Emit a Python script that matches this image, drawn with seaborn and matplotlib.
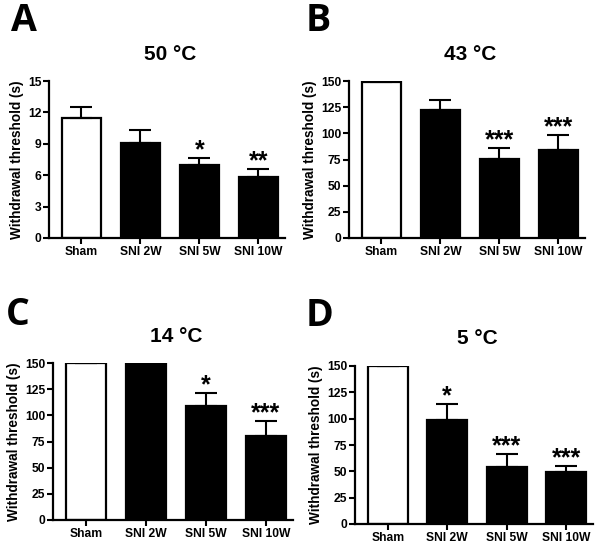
import matplotlib
matplotlib.use("Agg")
import matplotlib.pyplot as plt
import seaborn as sns
import pandas as pd

sns.set_style("ticks")
plt.rcParams['font.family'] = ['Liberation Sans', 'DejaVu Sans']
plt.rcParams['font.weight'] = 'bold'
plt.rcParams['text.color'] = 'black'
plt.rcParams['axes.labelcolor'] = 'black'
plt.rcParams['xtick.color'] = 'black'
plt.rcParams['ytick.color'] = 'black'
plt.rcParams['axes.edgecolor'] = 'black'

groups = ["Sham", "SNI 2W", "SNI 5W", "SNI 10W"]

# mean and SEM
temp_50_mean = [11.45, 9.08, 6.97, 5.85]
temp_50_sem = [1.05, 1.2, 0.67, 0.75]
temp_43_mean = [149.0, 122.3, 75.5, 84.0]
temp_43_sem = [0.6, 9.5, 10.5, 14.4]
temp_14_mean = [150.0, 150.0, 109.0, 80.7]
temp_14_sem = [0.0, 0.0, 12.3, 13.8]
temp_5_mean = [150.0, 98.9, 54.2, 49.7]
temp_5_sem = [0.0, 14.6, 12.1, 5.5]

stars_50 = ["", "", "*", "**"]
stars_43 = ["", "", "***", "***"]
stars_14 = ["", "", "*", "***"]
stars_5 = ["", "*", "***", "***"]

panels = [
    ("A", "50 °C", temp_50_mean, temp_50_sem, stars_50, 15, [0, 3, 6, 9, 12, 15]),
    ("B", "43 °C", temp_43_mean, temp_43_sem, stars_43, 150, [0, 25, 50, 75, 100, 125, 150]),
    ("C", "14 °C", temp_14_mean, temp_14_sem, stars_14, 150, [0, 25, 50, 75, 100, 125, 150]),
    ("D", "5 °C", temp_5_mean, temp_5_sem, stars_5, 150, [0, 25, 50, 75, 100, 125, 150]),
]

# axes boxes in pixels: left, top, right, bottom
W, H = 600, 547
boxes = [(49, 81, 285, 238), (349, 81, 585, 238), (53, 363, 293, 520), (355, 366, 593, 524)]
letter_pos = [(11, 21), (306, 21), (6, 315), (306, 316)]

fig = plt.figure(figsize=(6, 5.47), dpi=100)
colors = {"Sham": "white", "SNI 2W": "black", "SNI 5W": "black", "SNI 10W": "black"}

for (letter, title, means, sems, stars, ymax, yticks), box, lp in zip(panels, boxes, letter_pos):
    l, t, r, b = box
    ax = fig.add_axes([l / W, 1 - b / H, (r - l) / W, (b - t) / H])
    df = pd.DataFrame({"group": groups, "value": means})
    sns.barplot(data=df, x="group", y="value", hue="group", palette=colors, legend=False,
                width=0.67, edgecolor="black", linewidth=1.6, ax=ax)
    ax.errorbar(range(len(groups)), means, yerr=[[0] * len(groups), sems], fmt="none",
                ecolor="black", elinewidth=1.5, capsize=8, capthick=1.5, zorder=3)
    for i, s in enumerate(stars):
        if s:
            ax.annotate(s, (i, means[i] + sems[i]), xytext=(0, 0.5), textcoords="offset points",
                        ha="center", va="baseline", fontsize=18, fontweight="bold")
    ax.set_xlim(-0.55, 3.45)
    ax.set_ylim(0, ymax)
    ax.set_yticks(yticks)
    ax.set_xlabel("")
    ax.set_ylabel("Withdrawal threshold (s)", fontsize=9.8, fontweight="bold", labelpad=3)
    ax.tick_params(axis="both", direction="out", length=4, width=1.5, labelsize=8.7, pad=1.5)
    for lab in ax.get_xticklabels() + ax.get_yticklabels():
        lab.set_fontweight("bold")
    for side in ["left", "bottom"]:
        ax.spines[side].set_linewidth(1.6)
    sns.despine(ax=ax)
    cx = (l + r) / 2 + 3
    fig.text(cx / W, 1 - (t - 27) / H, title, ha="center", va="center", fontsize=15, fontweight="bold")
    fig.text(lp[0] / W, 1 - lp[1] / H, letter, ha="left", va="center", fontsize=27,
             fontweight="bold", family=["Open Sans", "DejaVu Sans"])

plt.savefig("out.png", dpi=100)
